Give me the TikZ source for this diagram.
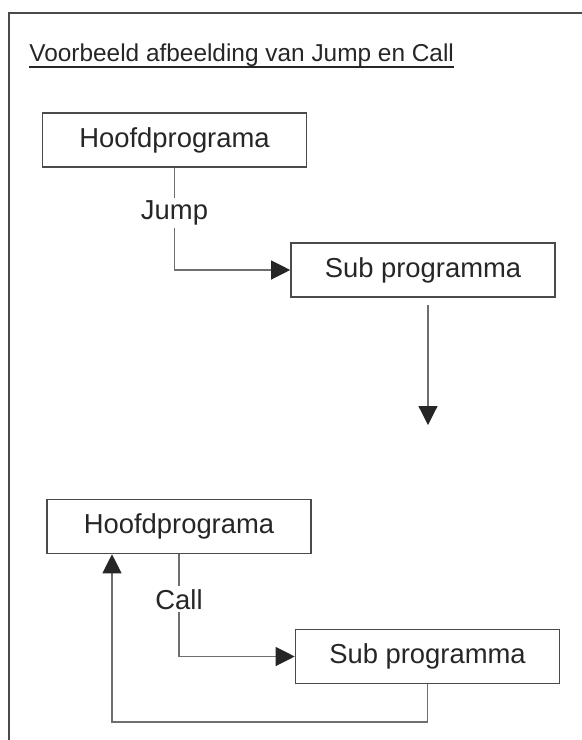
\documentclass[tikz,border=0pt]{standalone}
\usepackage{fontspec}
\setmainfont{Liberation Sans}
\usepackage{xcolor}
\usepackage{tikz}
\usetikzlibrary{arrows.meta, positioning, calc}
\definecolor{inkgray}{HTML}{262626}
\definecolor{linegray}{HTML}{4A4A4A}
\definecolor{wiregray}{HTML}{6E6E6E}

\begin{document}
\begin{tikzpicture}[
    x=0.5pt, y=-0.5pt,
    every node/.style={font=\fontsize{13.7pt}{16pt}\selectfont, text=inkgray},
    block/.style={rectangle, draw=linegray, line width=0.8pt, fill=white,
                  minimum width=132pt, minimum height=27pt, inner sep=0pt},
    arrow/.style={-{Triangle[length=9.5pt, width=9.5pt, color=inkgray]},
                  line width=0.6pt, color=wiregray},
    lbl/.style={fill=white, inner sep=1.5pt},
    frame/.style={draw=linegray, line width=1.3pt}
]
\useasboundingbox (0,0) rectangle (582,740);

% Frame and title
\draw[frame] (9,740) -- (9,13) -- (582,13);
\node[anchor=base west, inner sep=0pt, font=\fontsize{12.2pt}{14pt}\selectfont] (title) at (29,61)
    {Voorbeeld afbeelding van Jump en Call};
\draw[line width=0.9pt, inkgray] ([yshift=-3pt]title.base west) -- ([yshift=-3pt]title.base east);

% Jump
\node[block] (hoofdjump) at (174.5,140) {Hoofdprograma};
\node[block] (subjump) at (423,270) {Sub programma};
\coordinate (downtop) at (428,305);
\coordinate (downend) at (428,425);

% Call
\node[block] (hoofdcall) at (179,526.5) {Hoofdprograma};
\node[block] (subcall) at (427.5,656.5) {Sub programma};
\coordinate (back) at (112,722);

% Arrows
\draw[arrow] (hoofdjump.south) |- node[lbl, pos=0.22] (jumplbl) {Jump} (subjump.west);
\draw[arrow] (downtop) -- (downend);
\draw[arrow] (hoofdcall.south) |- node[lbl, pos=0.22] (calllbl) {Call} (subcall.west);
\draw[arrow] (subcall.south) |- (back) -- (back |- hoofdcall.south);

\end{tikzpicture}
\end{document}
